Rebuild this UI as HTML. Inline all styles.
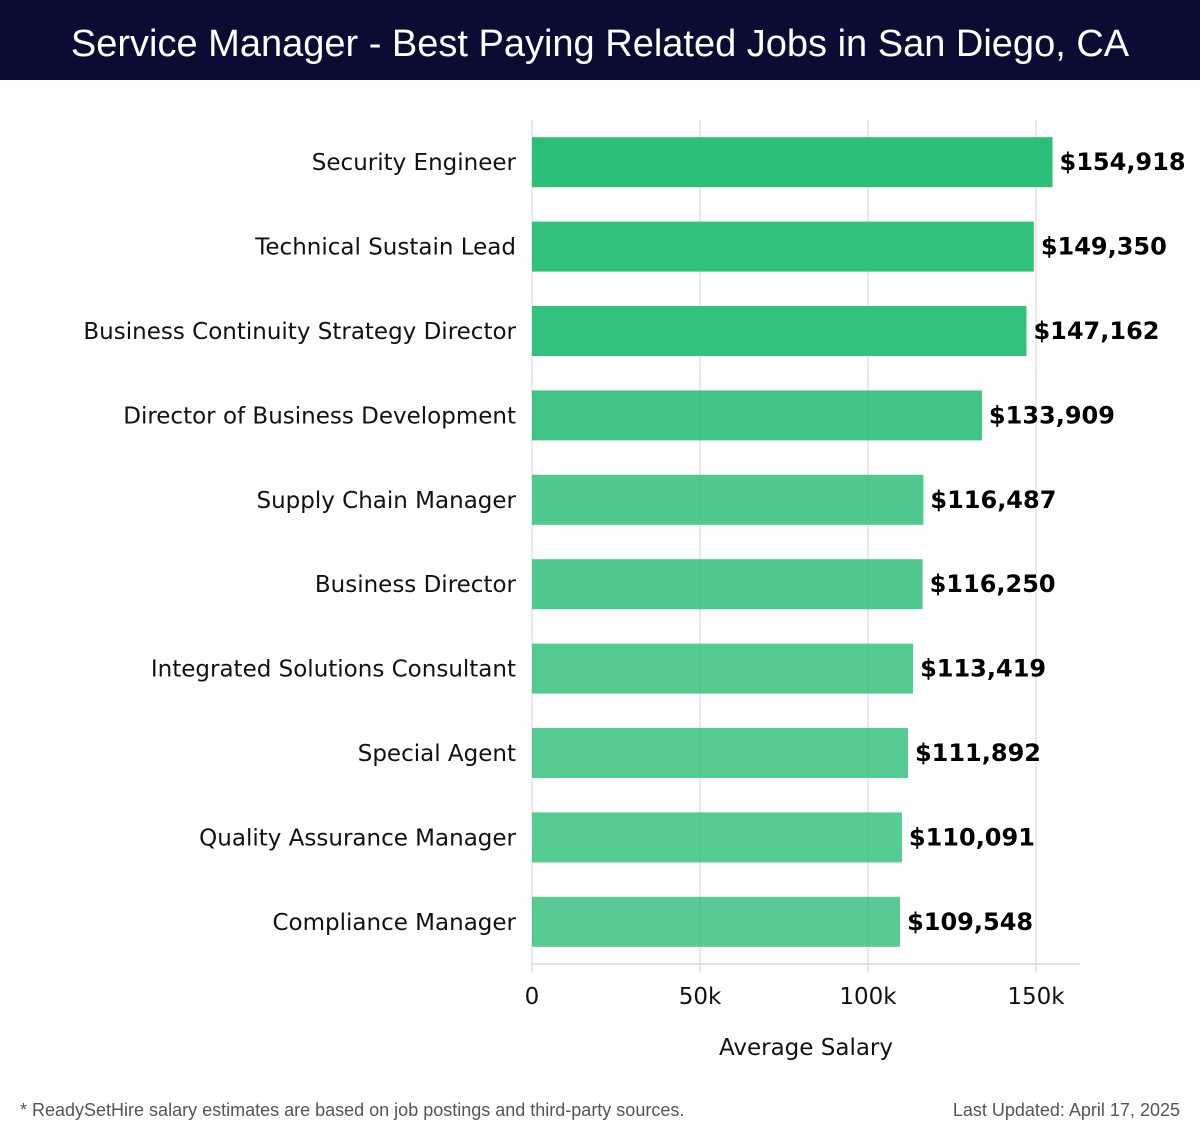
<!DOCTYPE html>
<html><head><meta charset="utf-8"><style>
body{margin:0;width:1200px;height:1140px;background:#fff;overflow:hidden;font-family:"DejaVu Sans","Liberation Sans",sans-serif}
#title{position:absolute;left:0;top:0;width:1200px;height:80px;background:#0b0c33;color:#fff;font:38px "Liberation Sans",sans-serif;text-align:center;line-height:88px}
.foot{position:absolute;top:1100px;font:18px "Liberation Sans",sans-serif;color:#555}
</style></head><body>
<div id="title">Service Manager - Best Paying Related Jobs in San Diego, CA</div>
<svg id="chart" width="1200" height="1060" style="position:absolute;left:0;top:80px" viewBox="0 80 1200 1060"></svg>
<div class="foot" style="left:20px">* ReadySetHire salary estimates are based on job postings and third-party sources.</div>
<div class="foot" style="right:20px">Last Updated: April 17, 2025</div>
<script>
const categories=["Security Engineer","Technical Sustain Lead","Business Continuity Strategy Director","Director of Business Development","Supply Chain Manager","Business Director","Integrated Solutions Consultant","Special Agent","Quality Assurance Manager","Compliance Manager"];
const salaries=[154918,149350,147162,133909,116487,116250,113419,111892,110091,109548];
const tickValues=[0,50000,100000,150000];
const tickLabels=["0","50k","100k","150k"];
const NS="http://www.w3.org/2000/svg";
const svgEl=document.getElementById('chart');
const x0=532,pxPer=504/150000,plotTop=120,band=84.4,barH=50;
const xs=v=>x0+v*pxPer;
const yc=i=>plotTop+band*i+band/2;
function mk(t,a){const e=document.createElementNS(NS,t);for(const k in a)e.setAttribute(k,a[k]);svgEl.appendChild(e);return e;}
tickValues.forEach((t,i)=>{
 const g=mk('line',{x1:xs(t),x2:xs(t),y1:plotTop,y2:972,stroke:'#e2e2e2','stroke-width':1.5});
 
 
 const tx=mk('text',{x:xs(t),y:1004,'text-anchor':'middle','font-size':23,fill:'#111'});
 tx.textContent=tickLabels[i];
 
 
});
const ax=mk('line',{x1:x0,x2:1080,y1:964,y2:964,stroke:'#d8d8d8','stroke-width':1.5});


const mx=Math.max(...salaries),mn=Math.min(...salaries);
salaries.forEach((v,i)=>{
 const op=0.8+0.2*(v-mn)/(mx-mn);
 const r=mk('rect',{x:x0,y:yc(i)-barH/2,width:xs(v)-x0,height:barH,fill:'#2dbe78','fill-opacity':op});
 
 
 const l=mk('text',{x:516,y:yc(i)+8,'text-anchor':'end','font-size':23,fill:'#111'});
 l.textContent=categories[i];
 
 
 const vl=mk('text',{x:xs(v)+7,y:yc(i)+8,'font-size':24,'font-weight':'bold',fill:'#000'});
 vl.textContent='$'+v.toLocaleString('en-US');
 
 
});
const xt=mk('text',{x:806,y:1055,'text-anchor':'middle','font-size':23,fill:'#111'});
xt.textContent='Average Salary';


</script>
</body></html>
